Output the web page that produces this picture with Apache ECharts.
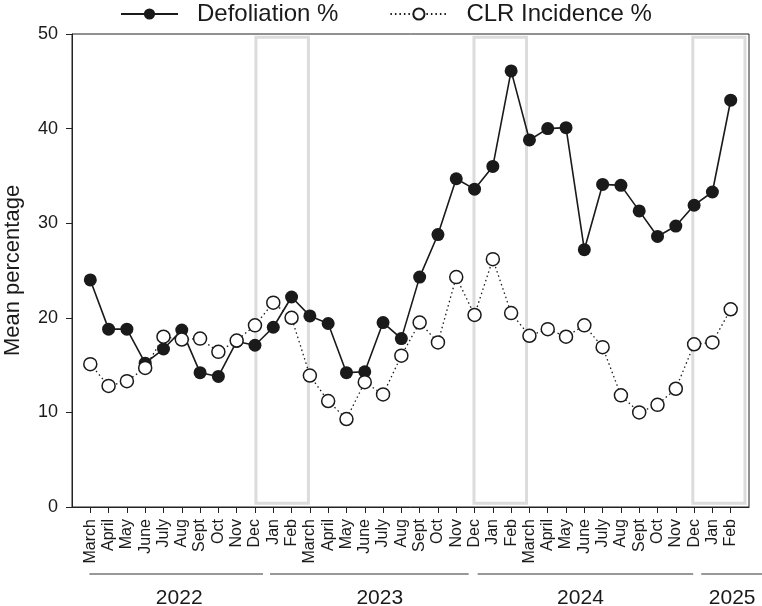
<!DOCTYPE html>
<html>
<head>
<meta charset="utf-8">
<script src="https://cdn.jsdelivr.net/npm/echarts@6/dist/echarts.min.js"></script>
<style>
  html, body { margin: 0; padding: 0; background: #fff; }
  #main { width: 762px; height: 606px; }
</style>
</head>
<body>
<div id="main"></div>
<script>
// monthly samples, March 2022 .. Feb 2025
var months = ['March','April','May','June','July','Aug','Sept','Oct','Nov','Dec',
  'Jan','Feb','March','April','May','June','July','Aug','Sept','Oct','Nov','Dec',
  'Jan','Feb','March','April','May','June','July','Aug','Sept','Oct','Nov','Dec',
  'Jan','Feb'];
var defoliation = [24.0, 18.8, 18.8, 15.2, 16.7, 18.7, 14.2, 13.8, 17.5, 17.1,
  19.0, 22.2, 20.2, 19.4, 14.2, 14.3, 19.5, 17.8, 24.3, 28.8, 34.7, 33.6,
  36.0, 46.1, 38.8, 40.0, 40.1, 27.2, 34.1, 34.0, 31.3, 28.6, 29.7, 31.9,
  33.3, 43.0];
var clrIncidence = [15.1, 12.8, 13.3, 14.7, 18.0, 17.7, 17.8, 16.4, 17.6, 19.2,
  21.6, 20.0, 13.9, 11.2, 9.3, 13.2, 11.9, 16.0, 19.5, 17.4, 24.3, 20.3,
  26.2, 20.5, 18.1, 18.8, 18.0, 19.2, 16.9, 11.8, 10.0, 10.8, 12.5, 17.2,
  17.4, 20.9];

// years under the month labels (spans in month-index units)
var years = ['2022', '2023', '2024', '2025'];
var yearSpans = [[-0.05, 9.44], [9.82, 20.68], [21.17, 32.95], [33.39, 36.8]];
var yearCentres = [4.86, 15.82, 26.79, 35.08];
// grey winter boxes (Dec..Feb)
var winterBoxes = [[9.05, 11.92], [20.97, 23.84], [32.93, 35.78]];

var idx = months.map(function (m, i) { return i; });
var ink = '#1a1a1a';
var font = 'Liberation Sans, Arial, sans-serif';

var chart = echarts.init(document.getElementById('main'));

var option = {
  animation: false,
  textStyle: { fontFamily: font, color: ink },
  legend: {
    left: 120, top: 2, padding: 0,
    itemWidth: 57, itemHeight: 14, itemGap: 51,
    textStyle: { fontSize: 24, color: ink, fontFamily: font, padding: [0, 0, 0, 14] },
    data: ['Defoliation %', 'CLR Incidence %']
  },
  grid: {
    left: 72, right: 13, top: 34, bottom: 99,
    outerBoundsMode: 'none',
    show: true, borderColor: '#222', borderWidth: 1
  },
  xAxis: {
    type: 'value', min: -1, max: 36, interval: 1,
    axisLine: { onZero: false, lineStyle: { color: '#222' } },
    axisTick: { length: 6, customValues: idx, lineStyle: { color: '#222' } },
    axisLabel: {
      customValues: idx, rotate: 90, fontSize: 16, color: ink, margin: 12,
      formatter: function (v) { return months[v] || ''; }
    },
    splitLine: { show: false }
  },
  yAxis: {
    type: 'value', min: 0, max: 50, interval: 10,
    name: 'Mean percentage', nameLocation: 'middle', nameGap: 48,
    nameTextStyle: { fontSize: 22, color: ink, fontFamily: font },
    axisLine: { show: true, onZero: false, lineStyle: { color: '#222' } },
    axisTick: { show: true, length: 6, lineStyle: { color: '#222' } },
    axisLabel: { fontSize: 18, color: ink, margin: 14 },
    splitLine: { show: false }
  },
  series: [
    {
      name: 'Defoliation %', type: 'line', z: 2,
      data: defoliation.map(function (v, i) { return [i, v]; }),
      symbol: 'circle', symbolSize: 13,
      itemStyle: { color: ink },
      lineStyle: { color: ink, width: 1.6 },
      emphasis: { disabled: true },
      markArea: {
        silent: true,
        itemStyle: { color: 'rgba(0,0,0,0)', borderColor: '#dcdcdc', borderWidth: 3 },
        data: winterBoxes.map(function (b) {
          return [{ coord: [b[0], 0.4] }, { coord: [b[1], 49.65] }];
        })
      }
    },
    {
      name: 'CLR Incidence %', type: 'line', z: 3,
      data: clrIncidence.map(function (v, i) { return [i, v]; }),
      symbol: 'circle', symbolSize: 13,
      itemStyle: { color: '#fff', borderColor: ink, borderWidth: 1.5 },
      lineStyle: { color: ink, width: 1.3, type: [1.5, 3] },
      emphasis: { disabled: true }
    }
  ]
};
chart.setOption(option);

// year brackets below the month labels
var yLine = 574, yText = 598;
var graphics = [];
years.forEach(function (y, k) {
  var x0 = chart.convertToPixel({ gridIndex: 0 }, [yearSpans[k][0], 0])[0];
  var x1 = chart.convertToPixel({ gridIndex: 0 }, [yearSpans[k][1], 0])[0];
  var xc = chart.convertToPixel({ gridIndex: 0 }, [yearCentres[k], 0])[0];
  graphics.push({
    type: 'line', shape: { x1: x0, y1: yLine, x2: Math.min(x1, 762), y2: yLine },
    style: { stroke: '#333', lineWidth: 1 }
  });
  graphics.push({
    type: 'text', x: xc, y: yText,
    style: { text: y, fontSize: 21, fontFamily: font, fill: ink, align: 'center', verticalAlign: 'middle' }
  });
});
chart.setOption({ graphic: graphics });
</script>
</body>
</html>
